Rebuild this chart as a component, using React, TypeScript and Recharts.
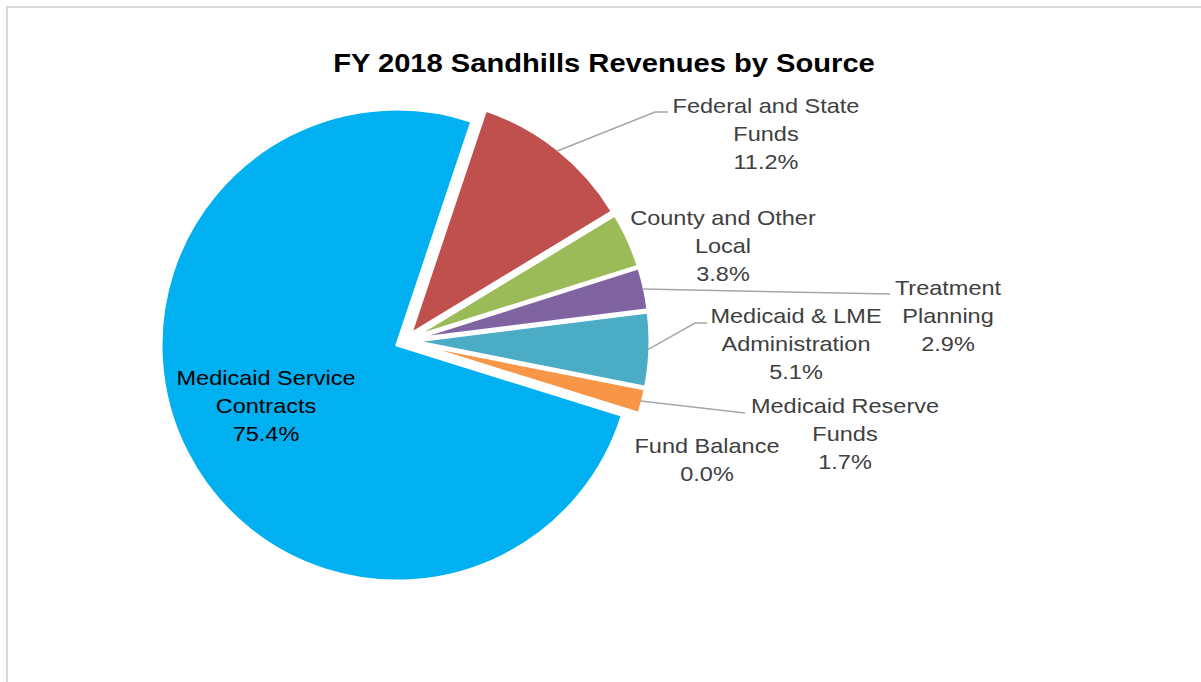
import React from 'react';
import { PieChart, Pie, Cell, Sector } from 'recharts';

const categories = [
  'Federal and State Funds',
  'County and Other Local',
  'Treatment Planning',
  'Medicaid & LME Administration',
  'Medicaid Reserve Funds',
  'Fund Balance',
  'Medicaid Service Contracts',
];
const shares = [11.2, 3.8, 2.9, 5.1, 1.7, 0.0, 75.4];
const labelText = [
  ['Federal and State', 'Funds'],
  ['County and Other', 'Local'],
  ['Treatment', 'Planning'],
  ['Medicaid & LME', 'Administration'],
  ['Medicaid Reserve', 'Funds'],
  ['Fund Balance'],
  ['Medicaid Service', 'Contracts'],
];
const colors = ['#C0504D', '#9BBB59', '#8064A2', '#4BACC6', '#F79646', '#2C4D75', '#00B0F0'];

const data = categories.map((name, i) => ({ name, value: shares[i] }));

// where Excel put each label: text centre x, first line y, leader bend points
const labelLayout = [
  { x: 766, y: 106, leader: [[655, 112], [668, 112]] },
  { x: 723, y: 218, leader: null },
  { x: 948, y: 288, leader: [[890, 294]] },
  { x: 796, y: 316, leader: [[695, 323], [707, 323]] },
  { x: 845, y: 406, leader: [[745, 413]] },
  { x: 707, y: 446, leader: null },
  { x: 266, y: 378, leader: null },
];

const RAD = Math.PI / 180;
const EXPLODE = 9;
const FONT = '"Liberation Sans", Arial, sans-serif';
const STRETCH = 1.12;

const ExplodedSector = (props: any) => {
  const m = -props.midAngle * RAD;
  return (
    <Sector
      cx={props.cx + EXPLODE * Math.cos(m)}
      cy={props.cy + EXPLODE * Math.sin(m)}
      innerRadius={0}
      outerRadius={props.outerRadius}
      startAngle={props.startAngle}
      endAngle={props.endAngle}
      fill={props.fill}
      stroke="#FFFFFF"
      strokeWidth={3}
      strokeLinejoin="round"
    />
  );
};

const renderLabel = (props: any) => {
  const { cx, cy, midAngle, outerRadius, index, value } = props;
  const lay = labelLayout[index];
  const m = -midAngle * RAD;
  const ex = cx + EXPLODE * Math.cos(m);
  const ey = cy + EXPLODE * Math.sin(m);
  const sx = ex + (outerRadius - 2) * Math.cos(m);
  const sy = ey + (outerRadius - 2) * Math.sin(m);
  const lines = [...labelText[index], `${value.toFixed(1)}%`];
  const inside = index === 6;
  return (
    <g key={`lbl-${index}`}>
      {lay.leader && (
        <polyline
          points={[[sx, sy], ...lay.leader].map((p) => p.join(',')).join(' ')}
          fill="none"
          stroke="#A6A6A6"
          strokeWidth={1.5}
        />
      )}
      {lines.map((t, i) => (
        <text
          key={i}
          x={0}
          y={0}
          transform={`translate(${lay.x},${lay.y + i * 28}) scale(${STRETCH},1)`}
          textAnchor="middle"
          dominantBaseline="central"
          fontFamily={FONT}
          fontSize={21}
          fill={inside ? '#000000' : '#404040'}
        >
          {t}
        </text>
      ))}
    </g>
  );
};

const App = () => {
  return (
    <div style={{ position: 'absolute', left: 0, top: 0, width: 1201, height: 682, background: '#fff' }}>
      <div
        style={{
          position: 'absolute',
          left: 6,
          top: 6,
          width: 1195,
          height: 676,
          borderLeft: '2px solid #D9D9D9',
          borderTop: '2px solid #D9D9D9',
        }}
      />
      <div
        style={{
          position: 'absolute',
          left: 0,
          width: 1208,
          top: 47,
          textAlign: 'center',
          fontFamily: FONT,
          fontWeight: 'bold',
          fontSize: 26,
          lineHeight: '32px',
          transform: `scaleX(${STRETCH})`,
          color: '#000',
        }}
      >
        FY 2018 Sandhills Revenues by Source
      </div>
      <div style={{ position: 'absolute', left: 0, top: 0 }}>
        <PieChart width={1201} height={682} margin={{ top: 0, right: 0, bottom: 0, left: 0 }}>
          <Pie
            data={data}
            dataKey="value"
            nameKey="name"
            cx={405}
            cy={341}
            outerRadius={236}
            startAngle={71.5}
            endAngle={-288.5}
            stroke="none"
            shape={ExplodedSector}
            label={renderLabel}
            labelLine={false}
            isAnimationActive={false}
          >
            {data.map((d, i) => (
              <Cell key={d.name} fill={colors[i]} />
            ))}
          </Pie>
        </PieChart>
      </div>
    </div>
  );
};

export default App;
